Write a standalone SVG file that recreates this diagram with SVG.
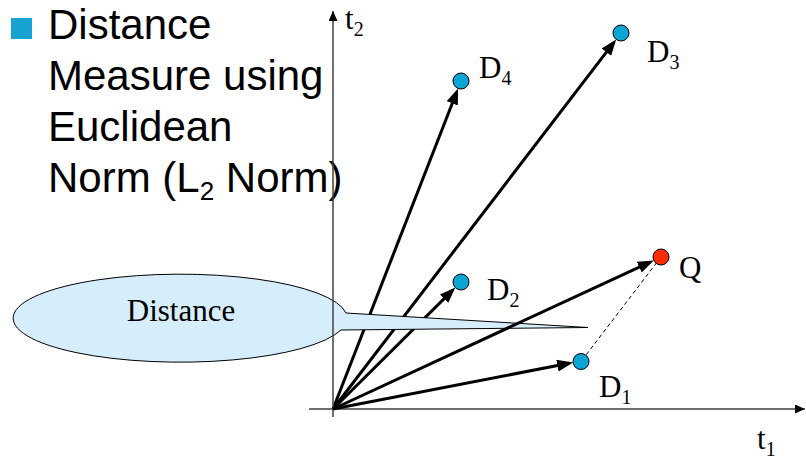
<svg xmlns="http://www.w3.org/2000/svg" width="806" height="462" viewBox="0 0 806 462">
<style>
.bt{font-family:"Liberation Sans",Arial,sans-serif;font-size:42px;fill:#000}
.lb{font-family:"Liberation Serif","Times New Roman",serif;font-size:31px;fill:#000}
.sb{font-size:20px}
.vec{stroke:#000;stroke-width:3;fill:none;marker-end:url(#ah)}
.ax{stroke:#404040;stroke-width:1.5;fill:none}
.doc{fill:#0AA5D5;stroke:#000;stroke-width:1}
</style>
<defs>
<marker id="ah" markerUnits="userSpaceOnUse" markerWidth="18" markerHeight="14" refX="12" refY="6" orient="auto">
<path d="M0,0 L16,6 L0,12 z" fill="#000"/>
</marker>
<marker id="axh" markerUnits="userSpaceOnUse" markerWidth="12" markerHeight="10" refX="10" refY="4.5" orient="auto">
<path d="M0,0 L10,4.5 L0,9 z" fill="#000"/>
</marker>
</defs>
<rect x="11" y="18" width="21" height="21" fill="#19A3D2"/>
<text class="bt" x="48" y="39">Distance</text>
<text class="bt" x="48" y="90">Measure using</text>
<text class="bt" x="48" y="141">Euclidean</text>
<text class="bt" x="48" y="192">Norm (L<tspan font-size="26" dy="8">2</tspan><tspan dy="-8"> Norm)</tspan></text>
<g id="connectors-under">
<line class="vec" x1="333" y1="409" x2="452.5" y2="290.4"/>
<line class="vec" x1="333" y1="409" x2="456.6" y2="92.2"/>
<line class="vec" x1="333" y1="409" x2="613.7" y2="42.6"/>
</g>
<g id="callout">
<path d="M346,313 L588,327.5 L341,330 A167 44 0 1 1 346,313 Z" fill="#D6EDFB" stroke="#000" stroke-width="1"/>
<text class="lb" x="181" y="321" text-anchor="middle" font-size="32">Distance</text>
</g>
<g id="axes">
<line class="ax" x1="333" y1="417" x2="333" y2="11" marker-end="url(#axh)"/>
<line class="ax" x1="309" y1="409" x2="805" y2="409" marker-end="url(#axh)"/>
<text class="lb" x="345" y="29">t<tspan class="sb" dy="7">2</tspan></text>
<text class="lb" x="757" y="449">t<tspan class="sb" dy="7">1</tspan></text>
</g>
<g id="connectors">
<line class="vec" x1="333" y1="409" x2="569.2" y2="363.3"/>
<line class="vec" x1="333" y1="409" x2="650.1" y2="262.1"/>
<line x1="661" y1="257" x2="581" y2="361.5" stroke="#000" stroke-width="1" stroke-dasharray="4,3"/>
</g>
<g id="D1"><circle class="doc" cx="581" cy="361.5" r="8"/><text class="lb" x="599" y="397">D<tspan class="sb" dy="7">1</tspan></text></g>
<g id="Q"><circle cx="661" cy="257" r="8" fill="#FF2B00" stroke="#000" stroke-width="1"/><text class="lb" x="679" y="278">Q</text></g>
<g id="D2"><circle class="doc" cx="461" cy="282" r="8"/><text class="lb" x="487" y="300">D<tspan class="sb" dy="7">2</tspan></text></g>
<g id="D4"><circle class="doc" cx="461" cy="81" r="8"/><text class="lb" x="479" y="78">D<tspan class="sb" dy="7">4</tspan></text></g>
<g id="D3"><circle class="doc" cx="621" cy="33" r="8"/><text class="lb" x="647" y="62">D<tspan class="sb" dy="7">3</tspan></text></g>
</svg>
